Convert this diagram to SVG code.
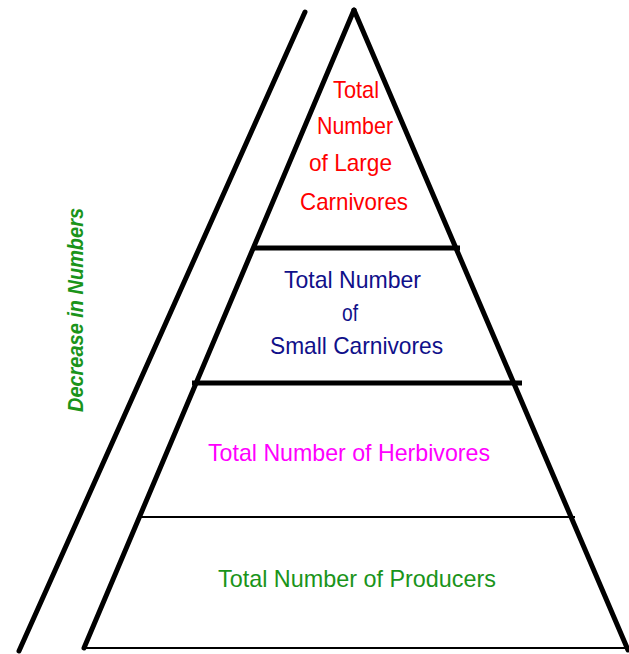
<svg xmlns="http://www.w3.org/2000/svg" width="629" height="654" viewBox="0 0 629 654">
<style>
.side{stroke:#000;stroke-width:5;fill:none;stroke-linecap:round}
.thick{stroke:#000;stroke-width:5}
.thin{stroke:#000;stroke-width:2}
text{font-family:"Liberation Sans",Arial,sans-serif;font-size:24px}
</style>
<rect width="629" height="654" fill="#fff"/>
<g id="connectors">
<line class="side" x1="305" y1="12" x2="19" y2="651"/>
<line class="side" x1="354" y1="10" x2="84" y2="648"/>
<line class="side" x1="354" y1="10" x2="628" y2="650"/>
<line class="thin" x1="84" y1="648" x2="628" y2="648"/>
<line class="thick" x1="252" y1="248" x2="460" y2="248"/>
<line class="thick" x1="192" y1="383" x2="522" y2="383"/>
<line class="thin" x1="139" y1="517" x2="575" y2="517"/>
</g>
<g id="large-carnivores" fill="#ff0000">
<text x="333" y="98" textLength="46" lengthAdjust="spacingAndGlyphs">Total</text>
<text x="317" y="134" textLength="76" lengthAdjust="spacingAndGlyphs">Number</text>
<text x="309" y="171" textLength="83" lengthAdjust="spacingAndGlyphs">of Large</text>
<text x="300" y="210" textLength="108" lengthAdjust="spacingAndGlyphs">Carnivores</text>
</g>
<g id="small-carnivores" fill="#10108a">
<text x="284" y="288" textLength="137" lengthAdjust="spacingAndGlyphs">Total Number</text>
<text x="342" y="321" textLength="16" lengthAdjust="spacingAndGlyphs">of</text>
<text x="270" y="354" textLength="173" lengthAdjust="spacingAndGlyphs">Small Carnivores</text>
</g>
<g id="herbivores" fill="#ff00ff">
<text x="208" y="461" textLength="282" lengthAdjust="spacingAndGlyphs">Total Number of Herbivores</text>
</g>
<g id="producers" fill="#1a941a">
<text x="218" y="587" textLength="278" lengthAdjust="spacingAndGlyphs">Total Number of Producers</text>
</g>
<g id="label" fill="#1a941a">
<text transform="translate(83,412) rotate(-90)" textLength="204" lengthAdjust="spacingAndGlyphs" style="font-style:italic;font-weight:bold;font-size:22px">Decrease in Numbers</text>
</g>
</svg>
